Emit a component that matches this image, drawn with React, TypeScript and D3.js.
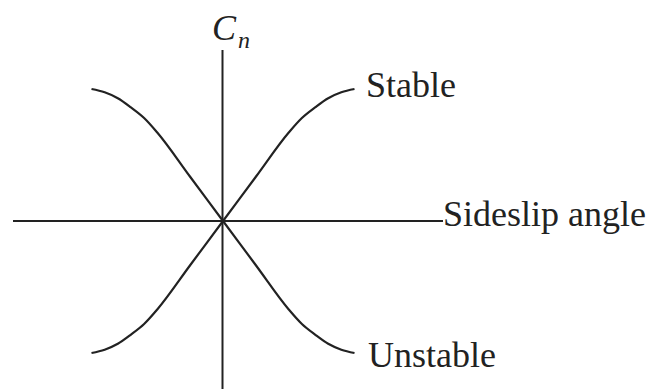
import React from "react";
import * as d3 from "d3";

const sideslip = [-1, -0.9, -0.8, -0.7, -0.6, -0.5, -0.25, 0, 0.25, 0.5, 0.6, 0.7, 0.8, 0.9, 1];
const cnStable = [-1, -0.975, -0.93, -0.86, -0.78, -0.67, -0.335, 0, 0.335, 0.67, 0.78, 0.86, 0.93, 0.975, 1];
const cnUnstable = cnStable.map((v) => -v);
const labels = { stable: "Stable", unstable: "Unstable", xAxis: "Sideslip angle", yAxis: "C", ySub: "n" };

const W = 651;
const H = 389;
const ox = 222.5;
const oy = 221;

export default function App() {
  const x = d3.scaleLinear().domain([-1, 1]).range([ox - 131, ox + 132]);
  const y = d3.scaleLinear().domain([-1, 1]).range([oy + 132, oy - 132]);
  const line = d3
    .line<number>()
    .x((_, i) => x(sideslip[i]))
    .y((d) => y(d))
    .curve(d3.curveMonotoneX);
  const font = "'Liberation Serif', 'Times New Roman', serif";
  const color = "#222";
  return (
    <svg
      width={W}
      height={H}
      style={{ position: "absolute", left: 0, top: 0, background: "#fff" }}
    >
      <line x1={13} x2={443} y1={oy} y2={oy} stroke={color} strokeWidth={2} />
      <line x1={ox} x2={ox} y1={50} y2={H} stroke={color} strokeWidth={2} />
      <path d={line(cnStable) || ""} fill="none" stroke={color} strokeWidth={2.2} />
      <path d={line(cnUnstable) || ""} fill="none" stroke={color} strokeWidth={2.2} />
      <text x={212} y={40} fontFamily={font} fontSize={36} fontStyle="italic" fill={color}>
        {labels.yAxis}
      </text>
      <text x={238} y={48} fontFamily={font} fontSize={24} fontStyle="italic" fill={color}>
        {labels.ySub}
      </text>
      <text x={366} y={97} fontFamily={font} fontSize={36} fill={color}>
        {labels.stable}
      </text>
      <text x={368} y={367} fontFamily={font} fontSize={36} fill={color}>
        {labels.unstable}
      </text>
      <text x={443} y={226} fontFamily={font} fontSize={36} fill={color}>
        {labels.xAxis}
      </text>
    </svg>
  );
}
